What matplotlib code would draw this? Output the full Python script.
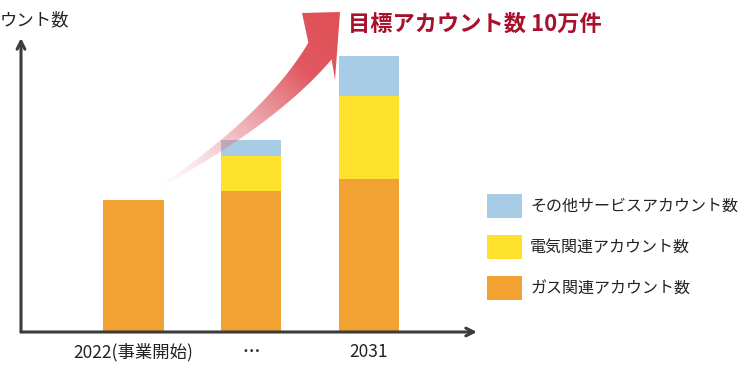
import numpy as np
import matplotlib
matplotlib.use("Agg")
import matplotlib.pyplot as plt
from matplotlib.patches import Polygon

plt.rcParams['font.family'] = ['Noto Sans CJK JP', 'DejaVu Sans']

# data (units of 10,000 accounts)
years = ["2022(事業開始)", "…", "2031"]
gas = [4.78, 5.11, 5.54]
elec = [0.0, 1.27, 3.01]
other = [0.0, 0.58, 1.45]
series_names = ["ガス関連アカウント数", "電気関連アカウント数", "その他サービスアカウント数"]
colors = ["#f2a233", "#fde12c", "#a9cce6"]

W, H = 752, 366
fig = plt.figure(figsize=(W / 100, H / 100), dpi=100)
fig.patch.set_facecolor("white")

# main axes: x axis line at y=332px, y arrow tip at 38px, left at 21px, x arrow tip at 477px
ax = fig.add_axes([21 / W, 34 / H, 456 / W, 294 / H])
x = np.arange(len(years))
ax.bar(x, gas, width=0.51, color=colors[0], label=series_names[0])
ax.bar(x, elec, width=0.51, bottom=gas, color=colors[1], label=series_names[1])
ax.bar(x, other, width=0.51, bottom=np.add(gas, elec), color=colors[2], label=series_names[2])
ax.set_xlim(-0.955, 2.917)
ax.set_ylim(0, 10.65)
ax.set_yticks([])
ax.set_xticks(x, years, fontsize=12.5, color="#222222")
ax.get_xticklabels()[1].set_fontweight("bold")
ax.tick_params(axis="x", length=0, pad=8)
for s in ax.spines.values():
    s.set_visible(False)
ax.patch.set_alpha(0)

# axis arrows
arrow_kw = dict(arrowstyle="->", lw=2.2, color="#3c3c3c", mutation_scale=14, shrinkA=0, shrinkB=0)
ax.annotate("", xy=(1, 0), xytext=(0, 0), xycoords="axes fraction", arrowprops=arrow_kw)
ax.annotate("", xy=(0, 1), xytext=(0, 0), xycoords="axes fraction", arrowprops=arrow_kw)

# legend (top entry = other)
h, l = ax.get_legend_handles_labels()
leg = fig.legend(h[::-1], l[::-1], loc="upper left", bbox_to_anchor=(487 / W, 1 - 194 / H),
                 frameon=False, fontsize=11.5, handlelength=2.2, handleheight=1.9,
                 handletextpad=0.5, labelspacing=1.1, borderpad=0, borderaxespad=0)
for t in leg.get_texts():
    t.set_color("#222222")

# decoration layer in pixel coordinates
deco = fig.add_axes([0, 0, 1, 1], zorder=5)
deco.set_xlim(0, W)
deco.set_ylim(H, 0)
deco.axis("off")
deco.patch.set_alpha(0)

# curved gradient arrow
p0 = np.array([158.0, 188.0])
p1 = np.array([272.0, 118.0])
p2 = np.array([320.0, 51.0])
t = np.linspace(0, 1, 80)[:, None]
c = (1 - t) ** 2 * p0 + 2 * (1 - t) * t * p1 + t ** 2 * p2
d = 2 * (1 - t) * (p1 - p0) + 2 * t * (p2 - p1)
d = d / np.linalg.norm(d, axis=1, keepdims=True)
n = np.column_stack([-d[:, 1], d[:, 0]])
hw = 0.8 + 13.5 * t ** 1.05
side_a = c - n * hw
side_b = c + n * hw
head = np.array([[302.0, 13.0], [340.0, 12.0], [335.0, 80.0]])
pts = np.vstack([side_a, head, side_b[::-1]])
poly = Polygon(pts, closed=True, facecolor="none", edgecolor="none")
deco.add_patch(poly)

gx, gy = np.meshgrid(np.arange(W) + 0.5, np.arange(H) + 0.5)
v = np.array([339.0 - 158.0, 13.0 - 188.0])
proj = ((gx - 158.0) * v[0] + (gy - 188.0) * v[1]) / (v @ v)
proj = np.clip(proj, 0, 1)
img = np.zeros((H, W, 4))
img[..., 0] = 0.88
img[..., 1] = 0.31 + 0.14 * (1 - proj)
img[..., 2] = 0.34 + 0.16 * (1 - proj)
img[..., 3] = np.clip(proj * 1.35, 0, 1) ** 1.2
im = deco.imshow(img, extent=(0, W, H, 0), origin="upper", interpolation="bilinear", zorder=3)
im.set_clip_path(poly)
deco.set_xlim(0, W)
deco.set_ylim(H, 0)

# texts
deco.text(348, 24, "目標アカウント数 10万件", fontsize=16, fontweight="bold",
          color="#a8102c", ha="left", va="center")
deco.text(0, 20, "ウント数", fontsize=12.5, color="#222222", ha="left", va="center")

fig.savefig("out.png", dpi=100)
